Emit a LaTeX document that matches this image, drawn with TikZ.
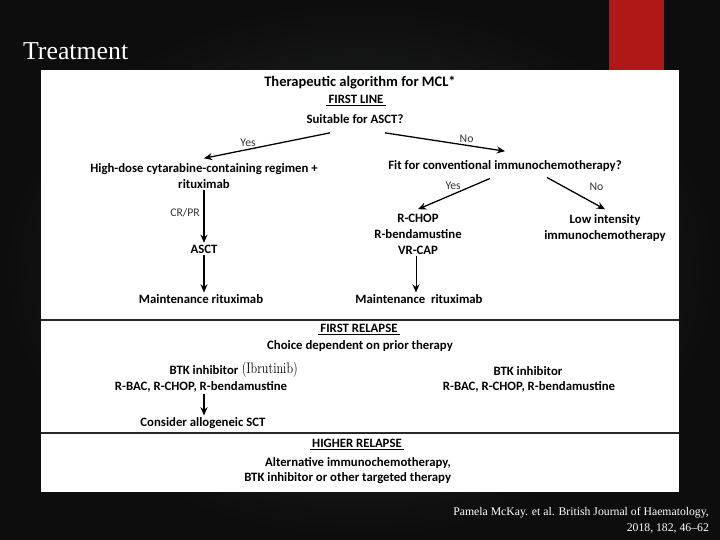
\documentclass[tikz,border=0pt]{standalone}
\usepackage{fontspec}
\usepackage{tikz}
\usetikzlibrary{arrows.meta}
\newfontfamily\calfont{Carlito}
\newfontfamily\slidefont{Liberation Serif}
\definecolor{slidebg}{RGB}{44,46,46}
\definecolor{slidered}{RGB}{176,24,24}
\definecolor{sepgrey}{RGB}{40,40,40}

\begin{document}
\begin{tikzpicture}[x=0.03cm, y=-0.03cm,
	txt/.style={font=\calfont\bfseries\fontsize{10.9}{13.4}\selectfont, align=center, inner sep=1.5pt},
	lbl/.style={font=\calfont\fontsize{10}{11}\selectfont, text=black!80, inner sep=1pt},
	arr/.style={-{Stealth[length=7pt, width=6pt]}, line width=1.1pt},
	sep/.style={sepgrey, line width=1.3pt}]
	\useasboundingbox (0,0) rectangle (720,540);
	\shade[inner color=slidebg, outer color=black!95] (0,0) rectangle (720,540);
	\fill[slidered] (609,0) rectangle (664,72);
	\fill[white] (41,70) rectangle (679,492);
	\draw[sep] (41,320) -- (679,320);
	\draw[sep] (41,433) -- (679,433);
	\node[anchor=west, text=white, font=\slidefont\fontsize{22}{24}\selectfont] (slide) at (19,51) {Treatment};
	
	\node[txt, font=\calfont\bfseries\fontsize{12.4}{14}\selectfont] (algo) at (360,83) {Therapeutic algorithm for MCL*};
	\node[txt] (firstline) at (356,101) {\underline{\,FIRST LINE\,}};
	\node[txt] (suitable) at (355,119) {Suitable for ASCT?};
	\node[txt] (highdose) at (204,176) {High-dose cytarabine-containing regimen +\\rituximab};
	\node[txt] (fit) at (505,166) {Fit for conventional immunochemotherapy?};
	\node[txt] (rchop) at (418,234.5) {R-CHOP\\R-bendamustine\\VR-CAP};
	\node[txt] (lowint) at (605,228) {Low intensity\\immunochemotherapy};
	\node[txt] (asct) at (204,249) {ASCT};
	\node[txt] (maintL) at (201,299) {Maintenance rituximab};
	\node[txt] (maintR) at (419,299) {Maintenance\ \ rituximab};
	
	\draw[arr] ([xshift=-0.75cm, yshift=-0.22cm]suitable.south) -- node[lbl, pos=0.65, above=1pt] {Yes} ([yshift=0.1cm]highdose.north);
	\draw[arr] ([xshift=0.9cm, yshift=-0.22cm]suitable.south) -- node[lbl, pos=0.68, above=1pt] {No} ([yshift=0.22cm]fit.north);
	\draw[arr] ([xshift=-0.45cm, yshift=-0.15cm]fit.south) -- node[lbl, pos=0.25, left=8pt] {Yes} ([yshift=0.1cm]rchop.north);
	\draw[arr] ([xshift=1.26cm, yshift=-0.12cm]fit.south) -- node[lbl, pos=0.3, right=20pt] {No} ([yshift=0.1cm]lowint.north);
	\draw[arr] (highdose.south) -- node[lbl, pos=0.42, left=2pt] {CR/PR} (asct.north);
	\draw[arr] (asct.south) -- (asct.south |- maintL.north);
	\draw[arr, line width=0.8pt] ([xshift=-0.06cm]rchop.south) -- ([xshift=-0.06cm]rchop.south |- maintR.north);
	
	\node[txt] (firstrel) at (359,330) {\underline{\,FIRST RELAPSE\,}};
	\node[txt] (choice) at (360,346) {Choice dependent on prior therapy};
	\node[txt] (btkL) at (204,370) {BTK inhibitor};
	\node[anchor=west, inner sep=0pt, font=\fontsize{13}{14}\selectfont] (ibru) at ([xshift=1pt]btkL.east) {\scalebox{0.8}[1]{(Ibrutinib)}};
	\node[txt] (rbacL) at (201,387) {R-BAC, R-CHOP, R-bendamustine};
	\node[txt] (allo) at (203,423) {Consider allogeneic SCT};
	\node[txt] (btkR) at (528,371) {BTK inhibitor};
	\node[txt] (rbacR) at (529,387) {R-BAC, R-CHOP, R-bendamustine};
	\draw[arr] ([xshift=0.09cm]rbacL.south) -- ([xshift=0.09cm]rbacL.south |- allo.north);
	
	\node[txt] (higher) at (357,445) {\underline{\,HIGHER RELAPSE\,}};
	\node[txt, align=right, anchor=east] (altern) at (453,470.5) {Alternative immunochemotherapy,\\BTK inhibitor or other targeted therapy};
	
	\node[anchor=east, align=right, text=white, font=\slidefont\fontsize{10}{13.5}\selectfont] (cite) at (713,520) {Pamela McKay. et al. British Journal of Haematology,\\2018, 182, 46\textendash62};
\end{tikzpicture}
\end{document}
